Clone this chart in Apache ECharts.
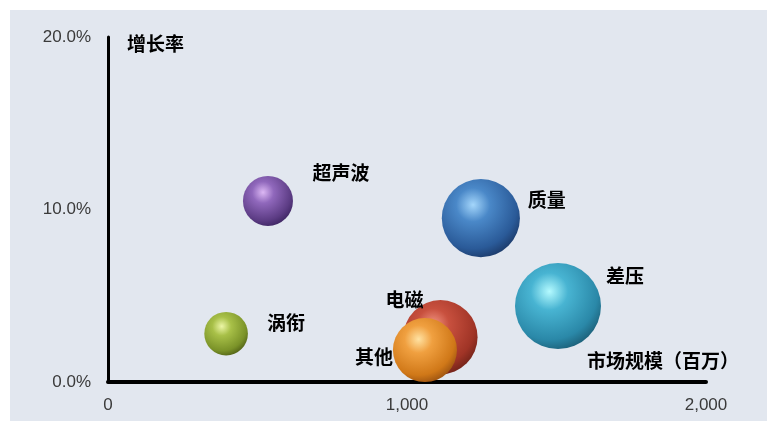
<!DOCTYPE html>
<html><head><meta charset="utf-8">
<script src="https://cdn.jsdelivr.net/npm/echarts@6/dist/echarts.min.js"></script>
<style>
html,body{margin:0;padding:0;background:#fff;}
#wrap{position:relative;width:767px;height:421px;overflow:hidden;}
#bg{position:absolute;left:10px;top:10px;right:0;bottom:0;background:#e2e7ef;}
#chart{position:absolute;left:0;top:0;width:767px;height:421px;}
</style></head><body>
<div id="wrap"><div id="bg"></div><div id="chart"></div></div>
<script>
// ---- data ----
const categories  = ['超声波', '质量', '差压', '电磁', '其他', '涡衔'];
const marketSize  = [535, 1247, 1505, 1112, 1060, 395];   // 市场规模（百万）
const growthRate  = [10.5, 9.5, 4.4, 2.6, 1.85, 2.8];     // 增长率 %
const bubbleValue = [25, 61, 74, 55, 41, 19];             // relative bubble size
const xTickValues = [0, 1000, 2000];
const yTickValues = [0, 10, 20];
const xAxisName = '市场规模（百万）';
const yAxisName = '增长率';

// ---- styling (not data) ----
const sphereColors = [
  ['#dcb8f4', '#9068bc', '#5c3c84', '#3c2460'],
  ['#a4d6fb', '#4a88c8', '#2a5a98', '#1b3866'],
  ['#b4faff', '#48b4d2', '#2a88a8', '#1b5c74'],
  ['#f29684', '#c8503e', '#a03426', '#6e2218'],
  ['#ffe2a2', '#f0a040', '#d07818', '#985010'],
  ['#ecf6a6', '#a8c048', '#7a9228', '#4e5e16']
];
const labelOffsets = [[73, -28], [66, -18], [67, -30], [-36, -37], [-51, 7], [60, -11]];

function sphere(c) {
  return {
    type: 'radial', x: 0.4, y: 0.33, r: 0.72,
    colorStops: [
      { offset: 0, color: c[0] },
      { offset: 0.3, color: c[1] },
      { offset: 0.78, color: c[2] },
      { offset: 1, color: c[3] }
    ]
  };
}

const data = categories.map((name, i) => ({
  name: name,
  value: [marketSize[i], growthRate[i], bubbleValue[i]],
  itemStyle: { color: sphere(sphereColors[i]) },
  label: { offset: labelOffsets[i] }
}));

const chart = echarts.init(document.getElementById('chart'), null, { renderer: 'canvas' });
const tickFont = { fontFamily: 'Liberation Sans, Arial, sans-serif', fontSize: 17, color: '#3a3a3a' };
const cjkFont = 'Noto Sans CJK SC';

chart.setOption({
  backgroundColor: 'transparent',
  animation: false,
  grid: { left: 108, top: 37, right: 61, bottom: 39, containLabel: false },
  xAxis: {
    type: 'value', min: xTickValues[0], max: xTickValues[xTickValues.length - 1], interval: 1000,
    axisLine: { show: true, lineStyle: { color: '#000', width: 4 } },
    axisTick: { show: false },
    splitLine: { show: false },
    axisLabel: Object.assign({ margin: 15, formatter: v => v.toLocaleString('en-US') }, tickFont)
  },
  yAxis: {
    type: 'value', min: yTickValues[0], max: yTickValues[yTickValues.length - 1], interval: 10,
    axisLine: { show: true, lineStyle: { color: '#000', width: 3 } },
    axisTick: { show: false },
    splitLine: { show: false },
    axisLabel: Object.assign({ margin: 17, formatter: v => v.toFixed(1) + '%' }, tickFont)
  },
  graphic: [
    { type: 'text', left: 127, top: 34, z: 10,
      style: { text: yAxisName, font: 'bold 19px "' + cjkFont + '"', fill: '#000' } },
    { type: 'text', left: 587, top: 351, z: 10,
      style: { text: xAxisName, font: 'bold 19px "' + cjkFont + '"', fill: '#000' } }
  ],
  series: [{
    type: 'scatter',
    data: data,
    symbol: 'circle',
    symbolSize: d => Math.sqrt(d[2]) * 10,
    itemStyle: { opacity: 1 },
    label: {
      show: true, position: 'inside', formatter: p => p.name,
      fontFamily: cjkFont, fontWeight: 'bold', fontSize: 19, color: '#000'
    },
    emphasis: { disabled: true }
  }]
});
</script>
</body></html>
